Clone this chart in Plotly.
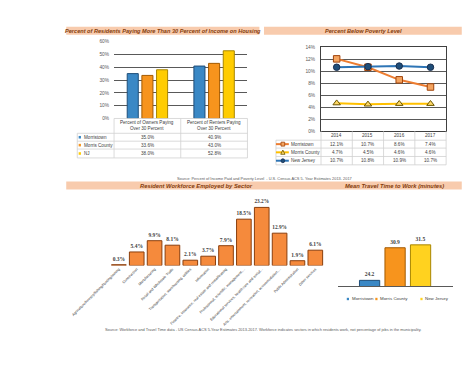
import plotly.graph_objects as go

W, H = 474, 366
def px(x): return x / W
def py(y): return 1 - y / H

FONT = "Liberation Sans"
TXT = "#404040"
TITLE_C = "#843C0C"
BAND = "#F8CBAD"
GRID = "#595959"
TBL = "#D0D0D0"

# ---------------- data ----------------
housing_cats = ["Percent of Owners Paying<br>Over 30 Percent", "Percent of Renters Paying<br>Over 30 Percent"]
housing_series = ["Morristown", "Morris County", "NJ"]
housing_morristown = [35.0, 40.9]
housing_county = [33.6, 43.0]
housing_nj = [38.0, 52.8]

pov_years = ["2014", "2015", "2016", "2017"]
pov_series = ["Morristown", "Morris County", "New Jersey"]
pov_morristown = [12.1, 10.7, 8.6, 7.4]
pov_county = [4.7, 4.5, 4.6, 4.6]
pov_nj = [10.7, 10.8, 10.9, 10.7]

sectors = ["Agriculture/forestry/fishing/hunting/mining", "Construction", "Manufacturing",
           "Retail and Wholesale Trade", "Transportation, warehousing, utilities", "Information",
           "Finance, insurance, real estate and rental/leasing", "Professional, scientific, management,...",
           "Educational services, health care and social...", "Arts, entertainment, recreation, accommodation,...",
           "Public Administration", "Other services"]
sector_pct = [0.3, 5.4, 9.9, 8.1, 2.1, 3.7, 7.9, 18.5, 23.2, 12.9, 1.9, 6.1]

travel_series = ["Morristown", "Morris County", "New Jersey"]
travel_minutes = [24.2, 30.9, 31.5]

titles = ["Percent of Residents Paying More Than 30 Percent of Income on Housing",
          "Percent Below Poverty Level",
          "Resident Workforce Employed by Sector",
          "Mean Travel Time to Work (minutes)"]
source1 = "Source: Percent of Income Paid and Poverty Level  - U.S. Census ACS 5- Year Estimates 2013- 2017"
source2 = ("Source: Workforce and Travel Time data - US Census ACS 5-Year Estimates 2013-2017. "
           "Workforce indicates sectors in which residents work, not percentage of jobs in the municipality.")

# ---------------- styles ----------------
c_blue, c_orange, c_yellow = "#3A88C5", "#F7941D", "#FFCC00"
e_blue, e_orange, e_yellow = "#1F4E79", "#A35A00", "#A88600"

fig = go.Figure()

# Chart 1: grouped bars
h_vals = [housing_morristown, housing_county, housing_nj]
h_cols = [(c_blue, e_blue), (c_orange, e_orange), (c_yellow, e_yellow)]
h_off = [-0.303, -0.083, 0.137]
for name, vals, (fc, ec), off in zip(housing_series, h_vals, h_cols, h_off):
    fig.add_trace(go.Bar(x=housing_cats, y=vals, name=name, marker=dict(color=fc, line=dict(color=ec, width=1)),
                         width=0.166, offset=off, xaxis="x", yaxis="y", showlegend=False))

# Chart 2: lines
p_vals = [pov_morristown, pov_county, pov_nj]
p_style = [("#ED7D31", "square", "#F4A460", "#A0440C"),
           ("#FFC000", "triangle-up", "#FFD966", "#6B5500"),
           ("#2E75B6", "circle", "#1F4E79", "#1A2F50")]
for name, vals, (lc, sym, mf, me) in zip(pov_series, p_vals, p_style):
    fig.add_trace(go.Scatter(x=pov_years, y=vals, name=name, mode="lines+markers",
                             line=dict(color=lc, width=2),
                             marker=dict(symbol=sym, size=6.5, color=mf, line=dict(color=me, width=1)),
                             xaxis="x2", yaxis="y2", showlegend=False, cliponaxis=False))

# Chart 3: sector bars
fig.add_trace(go.Bar(x=sectors, y=sector_pct, marker=dict(color="#F58A3C", line=dict(color="#8A3E0C", width=1)),
                     width=0.82, text=[f"<b>{v:.1f}%</b>" for v in sector_pct], textposition="outside",
                     textfont=dict(family="Liberation Serif", size=5.5, color=TXT), cliponaxis=False,
                     xaxis="x3", yaxis="y3", showlegend=False))

# Chart 4: travel time
t_cols = [(c_blue, e_blue), (c_orange, e_orange), ("#FFD21F", e_yellow)]
t_off = [-0.3096, -0.088, 0.1336]
for name, val, (fc, ec), off in zip(travel_series, travel_minutes, t_cols, t_off):
    fig.add_trace(go.Bar(x=[0], y=[val], name=name, marker=dict(color=fc, line=dict(color=ec, width=1)),
                         width=0.176, offset=off, text=[f"<b>{val:.1f}</b>"], textposition="outside",
                         textfont=dict(family="Liberation Serif", size=5.5, color=TXT),
                         xaxis="x4", yaxis="y4", showlegend=False))

shapes, ann = [], []

def hline(x0, x1, y, color=TBL, w=0.8):
    shapes.append(dict(type="line", xref="paper", yref="paper", x0=px(x0), x1=px(x1), y0=py(y), y1=py(y),
                       line=dict(color=color, width=w)))
def vline(x, y0, y1, color=TBL, w=0.8):
    shapes.append(dict(type="line", xref="paper", yref="paper", x0=px(x), x1=px(x), y0=py(y0), y1=py(y1),
                       line=dict(color=color, width=w)))
def rect(x0, y0, x1, y1, fill, lc=None, lw=0):
    shapes.append(dict(type="rect", xref="paper", yref="paper", x0=px(x0), x1=px(x1), y0=py(y0), y1=py(y1),
                       fillcolor=fill, line=dict(color=lc or fill, width=lw), layer="below"))
def text(x, y, s, size=5, color=TXT, xanchor="center", xref="paper", family=FONT):
    ann.append(dict(x=px(x) if xref == "paper" else x, y=py(y), xref=xref, yref="paper", text=s,
                    showarrow=False, xanchor=xanchor, yanchor="middle",
                    font=dict(family=family, size=size, color=color)))

# title bands
rect(22, 17, 232, 25, BAND)
rect(237, 17, 452, 25, BAND)
rect(22, 174, 452, 182, BAND)
text(127, 21, f"<b><i>{titles[0]}</i></b>", size=5.6, color=TITLE_C)
text(345, 21, f"<b><i>{titles[1]}</i></b>", size=5.6, color=TITLE_C)
text(164, 178, f"<b><i>{titles[2]}</i></b>", size=5.8, color=TITLE_C)
text(379, 178, f"<b><i>{titles[3]}</i></b>", size=5.8, color=TITLE_C)

# sources
text(237, 171, source1, size=3.9, color="#595959")
text(236, 324, source2, size=3.9, color="#595959")

# ---- Chart 1 table ----
for y in [125, 133, 141, 150]:
    hline(34, 219, y)
hline(74, 219, 110)
vline(34, 125, 150)
for x in [74, 146.5, 219]:
    vline(x, 110, 150)
for i, c in enumerate(housing_cats):
    text(i, 117.5, c, size=4.6, xref="x")
rows1 = [129, 137, 145.5]
for (name, vals, (fc, ec)), yc in zip(zip(housing_series, h_vals, h_cols), rows1):
    rect(35.5, yc - 1.3, 38, yc + 1.3, fc)
    text(39.5, yc, name, size=4.6, xanchor="left")
    for i, v in enumerate(vals):
        text(i, yc, f"{v:.1f}%", size=4.6, xref="x")

# ---- Chart 2 table ----
for y in [132, 140, 148.5, 157]:
    hline(250, 435, y)
vline(250, 132, 157)
for x in [299, 333, 367, 401, 435]:
    vline(x, 123, 157)
for i, yr in enumerate(pov_years):
    text(i, 127.5, yr, size=4.6, xref="x2")
rows2 = [136, 144.3, 152.8]
for (name, vals, (lc, sym, mf, me)), yc in zip(zip(pov_series, p_vals, p_style), rows2):
    shapes.append(dict(type="line", xref="paper", yref="paper", x0=px(250), x1=px(264), y0=py(yc), y1=py(yc),
                       line=dict(color=lc, width=2)))
    mx = 257.5
    if sym == "square":
        shapes.append(dict(type="rect", xref="paper", yref="paper", x0=px(mx - 2), x1=px(mx + 2),
                           y0=py(yc + 2), y1=py(yc - 2), fillcolor=mf, line=dict(color=me, width=0.8)))
    elif sym == "circle":
        shapes.append(dict(type="circle", xref="paper", yref="paper", x0=px(mx - 2), x1=px(mx + 2),
                           y0=py(yc + 2), y1=py(yc - 2), fillcolor=mf, line=dict(color=me, width=0.8)))
    else:
        shapes.append(dict(type="path", xref="paper", yref="paper",
                           path=f"M {px(mx-2.3)} {py(yc+2)} L {px(mx+2.3)} {py(yc+2)} L {px(mx)} {py(yc-2.3)} Z",
                           fillcolor=mf, line=dict(color=me, width=0.8)))
    text(264, yc, name, size=4.6, xanchor="left")
    for i, v in enumerate(vals):
        text(i, yc, f"{v:.1f}%", size=4.6, xref="x2")

# ---- Chart 4 legend ----
leg_x = [327, 358, 407]
for name, (fc, ec), lx in zip(travel_series, t_cols, leg_x):
    rect(lx, 291.8, lx + 2.4, 294.2, fc)
    text(lx + 3, 293, name, size=4.4, xanchor="left")

fig.update_layout(
    width=W, height=H, margin=dict(l=0, r=0, t=0, b=0),
    paper_bgcolor="white", plot_bgcolor="white",
    barmode="overlay", showlegend=False,
    font=dict(family=FONT, size=5, color=TXT),
    shapes=shapes, annotations=ann,
    xaxis=dict(domain=[px(74), px(219)], type="category", range=[-0.5, 1.5], showticklabels=False,
               showgrid=False, zeroline=False, ticks=""),
    yaxis=dict(domain=[py(110), py(32)], range=[0, 60], dtick=10, ticksuffix="%", showgrid=True,
               gridcolor=GRID, gridwidth=1.2, zeroline=False, tickfont=dict(size=4.8, color="#595959"),
               ticklabelstandoff=4),
    xaxis2=dict(domain=[px(299), px(435)], type="category", range=[-0.5, 3.5], showticklabels=False,
                showgrid=False, zeroline=False, showline=True, mirror=True, linecolor="#404040", linewidth=1,
                anchor="y2", ticks=""),
    yaxis2=dict(domain=[py(123), py(38)], range=[0, 14], dtick=2, ticksuffix="%", showgrid=True,
                gridcolor=GRID, gridwidth=1, zeroline=False, showline=True, mirror=True,
                linecolor="#404040", linewidth=1, tickfont=dict(size=4.8, color="#595959"), anchor="x2",
                ticklabelstandoff=4),
    xaxis3=dict(domain=[px(69.5), px(302.5)], type="category", range=[-0.5, 11.5], tickangle=-45,
                tickfont=dict(size=3.6, color="#303030"), showgrid=False, zeroline=False, showline=False,
                anchor="y3", ticks=""),
    yaxis3=dict(domain=[py(259), py(190)], range=[0, 27.2], visible=False, anchor="x3"),
    xaxis4=dict(domain=[px(317), px(442)], range=[-0.5, 0.5], showticklabels=False, showgrid=False,
                zeroline=False, showline=True, linecolor="#595959", linewidth=1, anchor="y4", ticks=""),
    yaxis4=dict(domain=[py(280), py(190)], range=[23, 41.26], visible=False, anchor="x4"),
)

fig.write_html("out.html")
